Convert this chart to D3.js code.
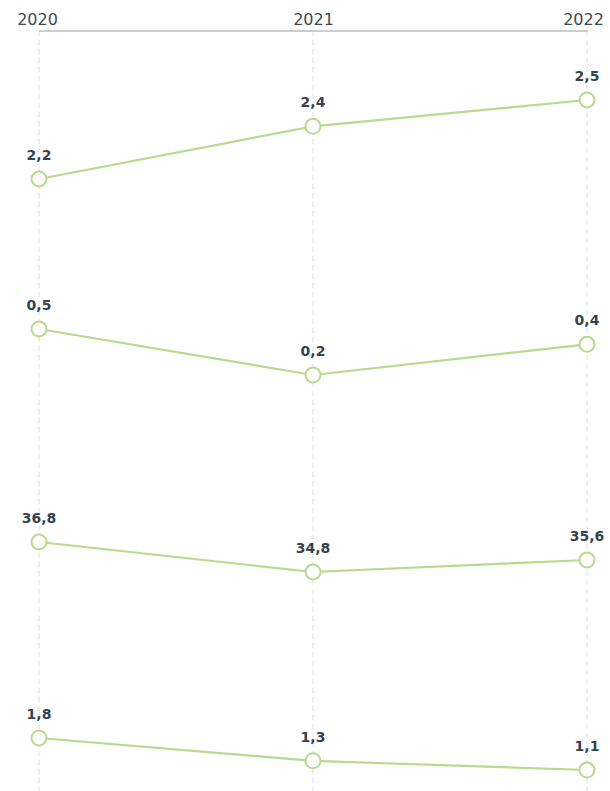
<!DOCTYPE html>
<html><head><meta charset="utf-8">
<script src="https://cdn.jsdelivr.net/npm/d3@7"></script>
<style>html,body{margin:0;padding:0;background:#fff;}svg{display:block;}</style>
</head><body>
<svg id="c" width="610" height="791"></svg>
<script>
const years = ["2020", "2021", "2022"];
const series1 = [2.2, 2.4, 2.5];
const series2 = [0.5, 0.2, 0.4];
const series3 = [36.8, 34.8, 35.6];
const series4 = [1.8, 1.3, 1.1];
const allSeries = [series1, series2, series3, series4];

// per-panel pixel band for [min, max] of each series
const bands = [[179, 100], [375, 329], [572, 542], [770, 738]];

const svg = d3.select("#c");
const x = d3.scalePoint().domain(years).range([39, 587]);
const axisY = 31;

// gridlines
svg.append("g").selectAll("line").data(years).join("line")
  .attr("x1", d => x(d)).attr("x2", d => x(d))
  .attr("y1", axisY).attr("y2", 791)
  .attr("stroke", "#dcdcdc").attr("stroke-width", 1).attr("stroke-dasharray", "5,4");

// top axis
const axis = d3.axisTop(x).tickSize(0).tickPadding(6);
const ag = svg.append("g").attr("transform", `translate(0,${axisY})`).call(axis);
ag.select(".domain").attr("stroke", "#bdbdbd").attr("stroke-width", 1.5).attr("d", `M39,0H588`);
ag.selectAll("text").attr("font-family", "DejaVu Sans, Verdana, sans-serif").attr("font-size", 16)
  .attr("fill", "#3d4a54").attr("dy", 0);
ag.selectAll(".tick").filter(d => d === "2020").select("text").attr("dx", -2);
ag.selectAll(".tick").filter(d => d === "2022").select("text").attr("dx", -4);

const fmt = v => d3.format(".1f")(v).replace(".", ",");
const lineColor = "#b7da8f";

allSeries.forEach((s, i) => {
  const y = d3.scaleLinear().domain(d3.extent(s)).range([bands[i][0], bands[i][1]]);
  const pts = s.map((v, j) => ({year: years[j], v}));
  const g = svg.append("g");
  g.append("path").datum(pts)
    .attr("d", d3.line().x(d => x(d.year)).y(d => y(d.v)))
    .attr("fill", "none").attr("stroke", lineColor).attr("stroke-width", 2.2);
  g.selectAll("circle").data(pts).join("circle")
    .attr("cx", d => x(d.year)).attr("cy", d => y(d.v)).attr("r", 7.5)
    .attr("fill", "#fff").attr("stroke", lineColor).attr("stroke-width", 2);
  g.selectAll("text").data(pts).join("text")
    .attr("x", d => x(d.year)).attr("y", d => y(d.v) - 19)
    .attr("text-anchor", "middle")
    .attr("font-family", "DejaVu Sans, Verdana, sans-serif").attr("font-weight", "bold")
    .attr("font-size", 14).attr("fill", "#34434d")
    .text(d => fmt(d.v));
});
</script>
</body></html>
